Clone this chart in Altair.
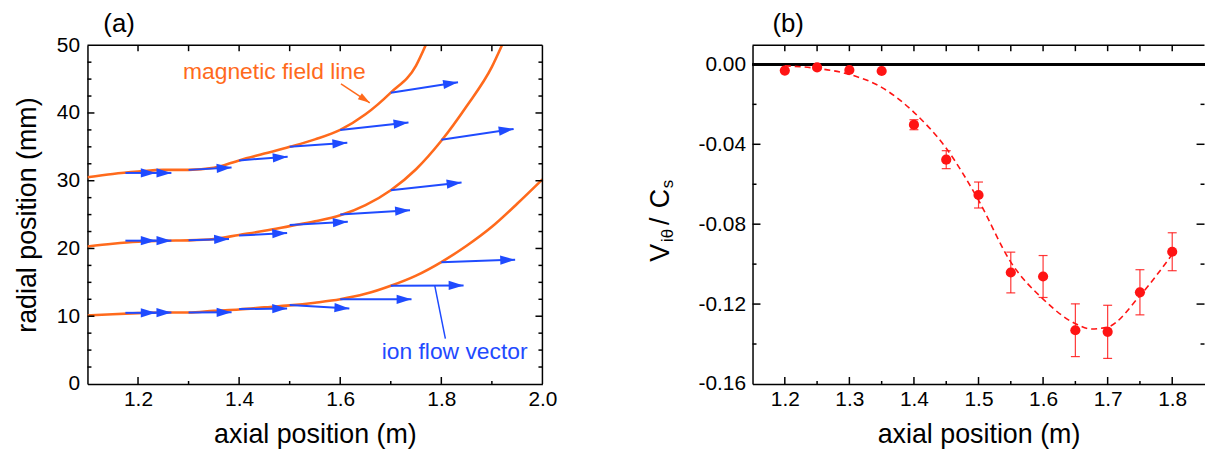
import math
import altair as alt
import pandas as pd

# ---------------- data: panel (a) ----------------
top_line_x = [1.10, 1.15, 1.20, 1.25, 1.30, 1.35, 1.40, 1.45, 1.50, 1.55, 1.60, 1.65, 1.70, 1.75, 1.769]
top_line_y = [30.5, 31.0, 31.35, 31.6, 31.6, 31.9, 33.0, 34.0, 35.0, 36.1, 37.5, 39.8, 43.0, 47.0, 50.0]
mid_line_x = [1.10, 1.15, 1.20, 1.25, 1.30, 1.35, 1.40, 1.45, 1.50, 1.55, 1.60, 1.65, 1.70, 1.75, 1.80, 1.85, 1.90, 1.92]
mid_line_y = [20.3, 20.7, 21.0, 21.15, 21.2, 21.4, 22.0, 22.6, 23.3, 24.0, 24.9, 26.4, 28.6, 31.7, 35.9, 41.0, 46.8, 50.0]
bot_line_x = [1.10, 1.15, 1.20, 1.25, 1.30, 1.35, 1.40, 1.45, 1.50, 1.55, 1.60, 1.65, 1.70, 1.75, 1.80, 1.85, 1.90, 1.95, 2.00]
bot_line_y = [10.1, 10.3, 10.45, 10.55, 10.55, 10.8, 11.0, 11.3, 11.6, 12.0, 12.5, 13.3, 14.5, 16.0, 18.0, 20.4, 23.2, 26.6, 30.2]

# ion flow vectors: start (x0, y0) -> tip (x1, y1)
arrow_x0 = [1.175, 1.205, 1.30, 1.40, 1.50, 1.60, 1.70,
            1.175, 1.205, 1.30, 1.40, 1.50, 1.60, 1.70, 1.80,
            1.175, 1.205, 1.30, 1.40, 1.50, 1.60, 1.70, 1.80]
arrow_y0 = [31.15, 31.15, 31.6, 33.0, 35.0, 37.5, 43.0,
            21.15, 21.15, 21.2, 21.9, 23.45, 25.0, 28.6, 36.05,
            10.5, 10.5, 10.55, 11.05, 11.65, 12.5, 14.5, 17.95]
arrow_x1 = [1.235, 1.266, 1.385, 1.496, 1.614, 1.735, 1.833,
            1.235, 1.266, 1.38, 1.495, 1.615, 1.738, 1.840, 1.943,
            1.235, 1.266, 1.385, 1.495, 1.618, 1.741, 1.844, 1.946]
arrow_y1 = [31.15, 31.15, 31.95, 33.55, 35.6, 38.6, 44.55,
            21.15, 21.15, 21.4, 22.3, 23.95, 25.65, 29.75, 37.65,
            10.5, 10.55, 10.6, 11.15, 11.15, 12.5, 14.55, 18.35]

# annotations (data coordinates)
field_note_x, field_note_y = [1.289], [46.0]
field_ptr_x0, field_ptr_y0, field_ptr_x1, field_ptr_y1 = [1.6015], [44.3], [1.6585], [41.5]
ion_note_x, ion_note_y = [1.682], [4.7]
ion_ptr_x0, ion_ptr_y0, ion_ptr_x1, ion_ptr_y1 = [1.787], [14.5], [1.808], [6.7]

# axis tick positions
a_xlabels = [1.2, 1.4, 1.6, 1.8, 2.0]
a_ylabels = [0, 10, 20, 30, 40, 50]
a_xmajor = [1.2, 1.4, 1.6, 1.8]
a_xminor = [1.3, 1.5, 1.7, 1.9]
a_xtop = [1.2, 1.3, 1.4, 1.5, 1.6, 1.7, 1.8, 1.9]
a_ymajor = [10, 20, 30, 40]
a_yminor = [2.5, 5, 7.5, 12.5, 15, 17.5, 22.5, 25, 27.5, 32.5, 35, 37.5, 42.5, 45, 47.5]

# ---------------- data: panel (b) ----------------
axial_pos = [1.20, 1.25, 1.30, 1.35, 1.40, 1.45, 1.50, 1.55, 1.60, 1.65, 1.70, 1.75, 1.80]
v_ratio = [-0.0031, -0.0015, -0.0028, -0.0033, -0.0302, -0.0477, -0.0654, -0.1042,
           -0.1062, -0.1331, -0.1339, -0.1141, -0.0938]
v_err = [0.0, 0.0, 0.0, 0.0, 0.0025, 0.0045, 0.0065, 0.0102, 0.0105, 0.0132, 0.0133, 0.0113, 0.0095]
fit_x = [1.20, 1.25, 1.30, 1.35, 1.40, 1.45, 1.50, 1.55, 1.60, 1.65, 1.675, 1.70, 1.75, 1.80]
fit_v = [-0.0007, -0.002, -0.005, -0.0115, -0.024, -0.042, -0.068, -0.099, -0.1175,
         -0.1298, -0.1325, -0.1315, -0.1158, -0.0951]

b_xlabels = [1.2, 1.3, 1.4, 1.5, 1.6, 1.7, 1.8]
b_ylabels = [0.0, -0.04, -0.08, -0.12, -0.16]
b_xmajor = [1.2, 1.3, 1.4, 1.5, 1.6, 1.7, 1.8]
b_xminor = [1.25, 1.35, 1.45, 1.55, 1.65, 1.75]
b_xtop = [1.2, 1.25, 1.3, 1.35, 1.4, 1.45, 1.5, 1.55, 1.6, 1.65, 1.7, 1.75, 1.8]
b_ymajor = [-0.04, -0.08, -0.12]
b_yminor = [-0.02, -0.06, -0.10, -0.14]

# ---------------- layout / style ----------------
TOTAL_W, H = 1125, 341
A0, A1 = 0, 458            # panel (a) plot, px from the plot origin
B0, B1 = 669.5, 1124.5     # panel (b) plot
ORANGE = "#ff6a1c"
BLUE = "#1f4bff"
RED = "#ff1414"
FONT = "Liberation Sans"
HEAD = "M0,0L-2,-0.62L-2,0.62Z"

XA = [1.1, 2.0]
YA = [0, 50]
XB = [1.15, 1.85]
YB = [-0.16, 0.0096]
sx_a = (A1 - A0) / (XA[1] - XA[0])
sy_a = H / (YA[1] - YA[0])


def xs_a():
    return alt.Scale(domain=XA, range=[A0, A1], nice=False, zero=False)


def xs_b():
    return alt.Scale(domain=XB, range=[B0, B1], nice=False, zero=False)


def ys(dom):
    return alt.Scale(domain=dom, nice=False, zero=False)


def label_axis(orient, values, title, label_padding, title_padding, fmt=None, expr=None, offset=0):
    kw = dict(orient=orient, values=values, ticks=False, domain=True, domainColor="black",
              domainWidth=1.5, grid=False, labelFontSize=21, labelPadding=label_padding,
              labelFlush=False, labelOverlap=False, labelBound=False,
              titleFontSize=27, titlePadding=title_padding, titleFontWeight="normal",
              offset=offset)
    kw["title"] = title
    if fmt:
        kw["format"] = fmt
    if expr:
        kw["labelExpr"] = expr
    return alt.Axis(**kw)


def angle(x0, y0, x1, y1):
    return math.degrees(math.atan2(-(y1 - y0) * sy_a, (x1 - x0) * sx_a)) % 360


def xticks(vals, xscale, y_from, y_to):
    return alt.Chart(pd.DataFrame({"t": vals})).mark_rule(color="black", strokeWidth=1.5).encode(
        x=alt.X("t:Q", scale=xscale, axis=None), y=alt.value(y_from), y2=alt.value(y_to))


def yticks(vals, dom, x_from, x_to):
    return alt.Chart(pd.DataFrame({"t": vals})).mark_rule(color="black", strokeWidth=1.5).encode(
        y=alt.Y("t:Q", scale=ys(dom), axis=None), x=alt.value(x_from), x2=alt.value(x_to))


def frame_line(x0, x1, y0, y1):
    return alt.Chart(pd.DataFrame({"k": [0]})).mark_rule(color="black", strokeWidth=1.5).encode(
        x=alt.value(x0), x2=alt.value(x1), y=alt.value(y0), y2=alt.value(y1))


def label_text(text, size, px, py, ang=0, align="left", baseline="alphabetic"):
    return alt.Chart(pd.DataFrame({"k": [0]})).mark_text(
        text=text, angle=ang, align=align, baseline=baseline, fontSize=size, font=FONT,
        color="black").encode(x=alt.value(px), y=alt.value(py))


# ---------------- panel (a) ----------------
lines_df = pd.concat([
    pd.DataFrame({"x": top_line_x, "y": top_line_y, "line": "top"}),
    pd.DataFrame({"x": mid_line_x, "y": mid_line_y, "line": "mid"}),
    pd.DataFrame({"x": bot_line_x, "y": bot_line_y, "line": "bot"}),
], ignore_index=True)

arrows_df = pd.DataFrame({"x0": arrow_x0, "y0": arrow_y0, "x1": arrow_x1, "y1": arrow_y1})
arrows_df["ang"] = [angle(a, b, c, d) for a, b, c, d in zip(arrow_x0, arrow_y0, arrow_x1, arrow_y1)]

fptr = pd.DataFrame({"x0": field_ptr_x0, "y0": field_ptr_y0, "x1": field_ptr_x1, "y1": field_ptr_y1})
fptr["ang"] = [angle(field_ptr_x0[0], field_ptr_y0[0], field_ptr_x1[0], field_ptr_y1[0])]
iptr = pd.DataFrame({"x0": ion_ptr_x0, "y0": ion_ptr_y0, "x1": ion_ptr_x1, "y1": ion_ptr_y1})
fnote = pd.DataFrame({"x": field_note_x, "y": field_note_y, "t": ["magnetic field line"]})
inote = pd.DataFrame({"x": ion_note_x, "y": ion_note_y, "t": ["ion flow vector"]})

a_lines = alt.Chart(lines_df).mark_line(color=ORANGE, strokeWidth=2.6, clip=True,
                                        interpolate="monotone").encode(
    x=alt.X("x:Q", scale=xs_a(),
            axis=label_axis("bottom", a_xlabels, "axial position (m)", 5, 12, fmt=".1f")),
    y=alt.Y("y:Q", scale=ys(YA),
            axis=label_axis("left", a_ylabels, "radial position (mm)", 8, 15, fmt="d")),
    detail="line:N",
)


def seg(df, color, width):
    return alt.Chart(df).mark_rule(color=color, strokeWidth=width).encode(
        x=alt.X("x0:Q", scale=xs_a(), axis=None), y=alt.Y("y0:Q", scale=ys(YA), axis=None),
        x2="x1:Q", y2="y1:Q")


def heads(df, color, size):
    return alt.Chart(df).mark_point(shape=HEAD, filled=True, color=color, opacity=1,
                                    size=size, strokeWidth=0).encode(
        x=alt.X("x1:Q", scale=xs_a(), axis=None), y=alt.Y("y1:Q", scale=ys(YA), axis=None),
        angle=alt.Angle("ang:Q", scale=None))


def note(df, color):
    return alt.Chart(df).mark_text(color=color, fontSize=23, font=FONT, align="left",
                                   baseline="middle").encode(
        x=alt.X("x:Q", scale=xs_a(), axis=None), y=alt.Y("y:Q", scale=ys(YA), axis=None),
        text="t:N")


a_layers = [
    a_lines,
    frame_line(A0, A1, 0, 0),
    frame_line(A1, A1, 0, H),
    xticks(a_xmajor, xs_a(), H, H - 7),
    xticks(a_xminor, xs_a(), H, H - 3),
    xticks(a_xtop, xs_a(), 0, 6),
    yticks(a_ymajor, YA, A0, A0 + 7),
    yticks(a_yminor, YA, A0, A0 + 4),
    yticks(a_ymajor, YA, A1, A1 - 7),
    yticks(a_yminor, YA, A1, A1 - 4),
    seg(arrows_df, BLUE, 2),
    heads(arrows_df, BLUE, 225),
    seg(fptr, ORANGE, 1.5),
    heads(fptr, ORANGE, 144),
    note(fnote, ORANGE),
    seg(iptr, BLUE, 1.5),
    note(inote, BLUE),
    label_text("(a)", 26, A0 + 16, -21, baseline="middle"),
]

# ---------------- panel (b) ----------------
pts_df = pd.DataFrame({"x": axial_pos, "v": v_ratio, "e": v_err})
pts_df["lo"] = pts_df["v"] - pts_df["e"]
pts_df["hi"] = pts_df["v"] + pts_df["e"]
err_df = pts_df[pts_df["e"] > 0]
fit_df = pd.DataFrame({"x": fit_x, "v": fit_v})

y_label_expr = "datum.value < 0 ? '-' + format(-datum.value, '.2f') : format(datum.value, '.2f')"

b_zero = alt.Chart(fit_df).mark_rule(color="black", strokeWidth=1.5).encode(
    y=alt.Y(datum=0, scale=ys(YB), axis=None), x=alt.value(B0), x2=alt.value(TOTAL_W),
)
b_fit = alt.Chart(fit_df).mark_line(color=RED, strokeWidth=1.6, strokeDash=[6, 4],
                                    interpolate="monotone").encode(
    x=alt.X("x:Q", scale=xs_b(), axis=None), y=alt.Y("v:Q", scale=ys(YB), axis=None),
)
b_err = alt.Chart(err_df).mark_rule(color=RED, strokeWidth=1.2, opacity=0.85).encode(
    x=alt.X("x:Q", scale=xs_b(), axis=None), y=alt.Y("lo:Q", scale=ys(YB), axis=None),
    y2="hi:Q",
)


def cap(field):
    return alt.Chart(err_df).mark_tick(color=RED, thickness=1.2, size=9, orient="horizontal",
                                       opacity=0.85).encode(
        x=alt.X("x:Q", scale=xs_b(), axis=None), y=alt.Y(field + ":Q", scale=ys(YB), axis=None))


b_pts = alt.Chart(pts_df).mark_circle(color=RED, size=105, opacity=1).encode(
    x=alt.X("x:Q", scale=xs_b(),
            axis=label_axis("bottom", b_xlabels, "axial position (m)", 5, 12, fmt=".1f")),
    y=alt.Y("v:Q", scale=ys(YB),
            axis=label_axis("left", b_ylabels, None, 7, 10, expr=y_label_expr, offset=-B0)),
)

b_layers = [
    b_zero,
    frame_line(B0, B1, 0, 0),
    xticks(b_xmajor, xs_b(), H, H - 7),
    xticks(b_xminor, xs_b(), H, H - 3),
    xticks(b_xtop, xs_b(), 0, 6),
    yticks(b_ymajor, YB, B0, B0 + 8),
    yticks(b_yminor, YB, B0, B0 + 4),
    yticks(b_ymajor, YB, B1, B1 - 8),
    yticks(b_yminor, YB, B1, B1 - 4),
    b_fit, b_err, cap("lo"), cap("hi"), b_pts,
    label_text("(b)", 26, B0 + 20, -21, baseline="middle"),
    # y title V_iθ / C_s built from pieces (rotated)
    label_text("V", 27, B0 - 84, 218, ang=270),
    label_text("iθ", 17, B0 - 80, 198, ang=270),
    label_text("/", 27, B0 - 84, 181, ang=270),
    label_text("C", 27, B0 - 84, 164, ang=270),
    label_text("s", 17, B0 - 80, 144, ang=270),
]

chart = alt.layer(*a_layers, *b_layers).resolve_scale(
    x="independent", y="independent"
).properties(
    width=TOTAL_W, height=H,
    padding={"left": 80, "top": 36, "right": 0, "bottom": 64},
    autosize=alt.AutoSizeParams(type="none"),
).configure_view(stroke="transparent").configure_axis(
    labelFont=FONT, titleFont=FONT, labelColor="black", titleColor="black",
)

chart.save("out.html", embed_options={"renderer": "svg", "actions": False})
